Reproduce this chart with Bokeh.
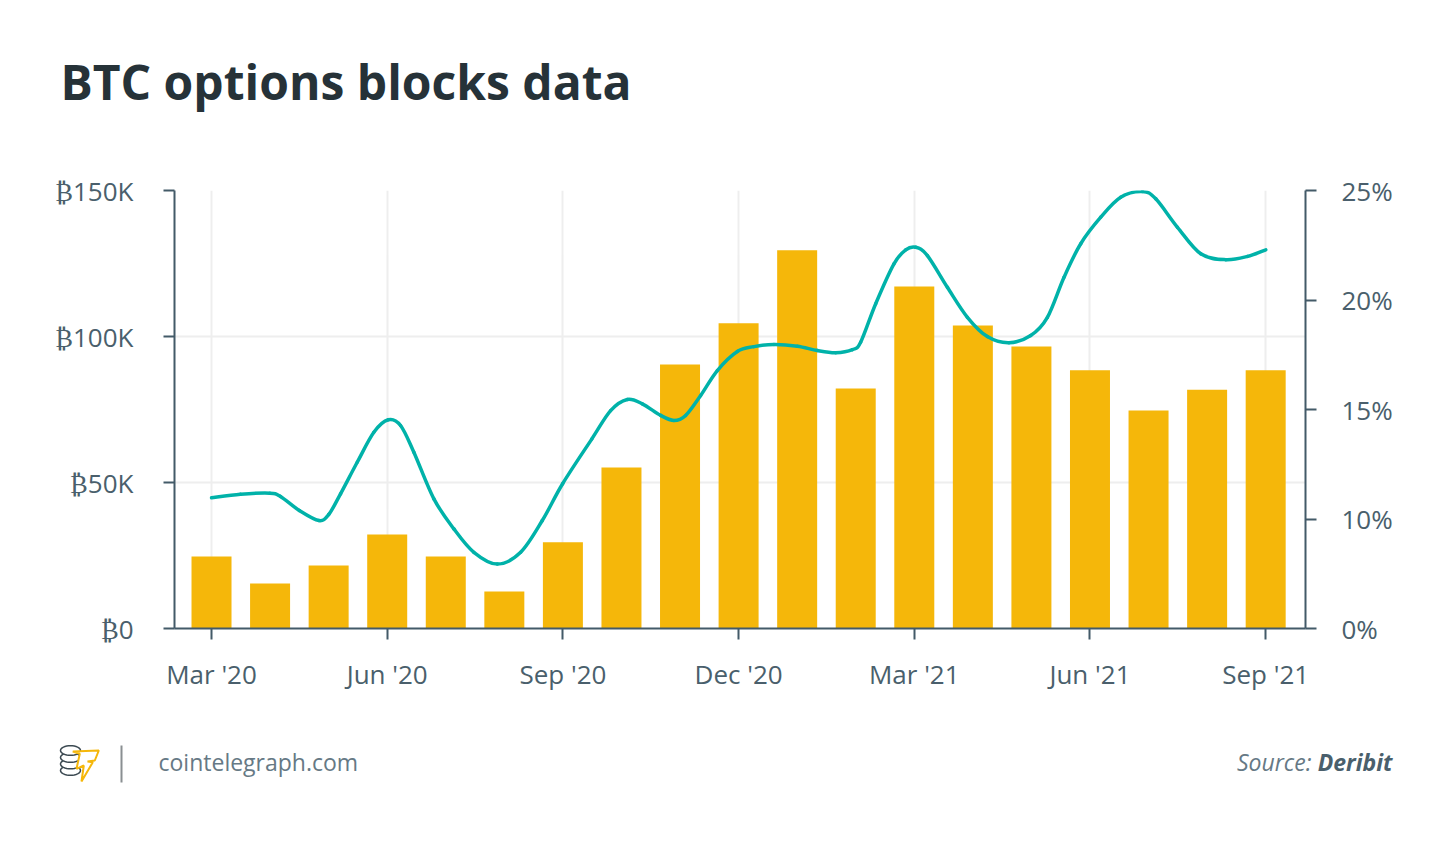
import math
from bokeh.plotting import figure
from bokeh.layouts import column
from bokeh.embed import file_html
from bokeh.resources import INLINE
from bokeh.core.properties import value
from bokeh.models import (Range1d, LinearAxis, FixedTicker, ColumnDataSource, Grid)

TITLE = "BTC options blocks data"
months = ["Mar '20", "Apr '20", "May '20", "Jun '20", "Jul '20", "Aug '20", "Sep '20",
          "Oct '20", "Nov '20", "Dec '20", "Jan '21", "Feb '21", "Mar '21", "Apr '21",
          "May '21", "Jun '21", "Jul '21", "Aug '21", "Sep '21"]
blocks_k = [24.7, 15.4, 21.6, 32.2, 24.7, 12.7, 29.5, 55.1, 90.4, 104.5, 129.5, 82.2,
            117.1, 103.8, 96.6, 88.4, 74.7, 81.8, 88.4]
# The line: month position and position on the right axis
line_month = [0, .495, .996, 1.178, 1.498, 1.833, 2.003, 2.203, 2.488, 2.772, 3.018, 3.228,
              3.455, 3.797, 4.138, 4.480, 4.880, 5.278, 5.648, 5.995, 6.495, 6.815, 7.100,
              7.356, 7.669, 7.896, 8.096, 8.352, 8.637, 8.979, 9.262, 9.604, 10.003, 10.345,
              10.658, 10.943, 11.084, 11.341, 11.653, 11.853, 12.024, 12.224, 12.565, 12.907,
              13.248, 13.617, 13.988, 14.273, 14.557, 14.842, 15.184, 15.525, 15.896, 16.123,
              16.494, 16.892, 17.319, 17.690, 18.002]
share_pct = [10.97, 11.13, 11.18, 11.03, 10.39, 9.93, 10.21, 11.15, 12.59, 13.96, 14.53, 14.27,
             13.05, 10.92, 9.55, 8.48, 7.94, 8.48, 9.93, 11.61, 13.66, 14.95, 15.46,
             15.26, 14.73, 14.50, 14.73, 15.64, 16.78, 17.65, 17.87, 17.97, 17.89, 17.69,
             17.59, 17.73, 18.07, 19.83, 21.65, 22.29, 22.41, 22.03, 20.58, 19.21,
             18.33, 18.05, 18.38, 19.21, 21.04, 22.57, 23.78, 24.69, 24.95, 24.62,
             23.32, 22.11, 21.84, 21.99, 22.29]
left_ticks = [0, 50, 100, 150]
left_labels = ["₿0", "₿50K", "₿100K", "₿150K"]
right_ticks = [5, 10, 15, 20, 25]
right_labels = ["0%", "10%", "15%", "20%", "25%"]
x_ticks = [0, 3, 6, 9, 12, 15, 18]

INK = "#4A5F6C"
AXIS = "#435A68"
GRID = "#EEEEEE"
FONT = "Open Sans"
TICK_SIZE = "26px"

def strip(top, bottom):
    """A figure without axes whose ranges are page pixels, for title and footer."""
    f = figure(width=1442, height=bottom - top, output_backend="svg", toolbar_location=None,
               x_range=Range1d(0, 1442), y_range=Range1d(bottom, top),
               min_border_left=0, min_border_right=0, min_border_top=0, min_border_bottom=0,
               x_axis_type=None, y_axis_type=None, outline_line_color=None,
               background_fill_color="white", border_fill_color="white")
    f.frame_align = False
    f.xgrid.visible = False
    f.ygrid.visible = False
    return f

def text(f, x, y, s, size, color=INK, align="left", style="normal"):
    f.text(x=[x], y=[y], text=[s], text_font=value(FONT), text_font_size=value(size),
           text_color=color, text_align=align, text_baseline="alphabetic",
           text_font_style=style)

head = strip(0, 150)
text(head, 60, 81, TITLE, "48px", color="#263238", style="bold")

p = figure(width=1442, height=578, output_backend="svg", toolbar_location=None,
           x_range=Range1d(-0.632, 18.68), y_range=Range1d(0, 150),
           min_border_left=174, min_border_right=137, min_border_top=40,
           min_border_bottom=100, x_axis_type=None, y_axis_type=None,
           outline_line_color=None, background_fill_color="white", border_fill_color="white")
p.frame_align = False
p.extra_y_ranges = {"pct": Range1d(5, 25)}

def style_axis(ax, ticks, labels, standoff):
    ax.ticker = FixedTicker(ticks=ticks)
    ax.major_label_overrides = dict(zip(ticks, labels))
    ax.major_tick_out = 11
    ax.major_tick_in = 0
    ax.minor_tick_out = 0
    ax.minor_tick_in = 0
    ax.axis_line_color = AXIS
    ax.axis_line_width = 2
    ax.major_tick_line_color = AXIS
    ax.major_tick_line_width = 2
    ax.major_label_text_color = INK
    ax.major_label_text_font = FONT
    ax.major_label_text_font_size = TICK_SIZE
    ax.major_label_standoff = standoff

xax = LinearAxis()
style_axis(xax, x_ticks, [months[i] for i in x_ticks], 16)
p.add_layout(xax, "below")
yax = LinearAxis()
style_axis(yax, left_ticks, left_labels, 30)
p.add_layout(yax, "left")
rax = LinearAxis(y_range_name="pct")
style_axis(rax, right_ticks, right_labels, 25)
p.add_layout(rax, "right")

p.add_layout(Grid(dimension=0, ticker=FixedTicker(ticks=x_ticks), grid_line_color=GRID, grid_line_width=2))
p.add_layout(Grid(dimension=1, ticker=FixedTicker(ticks=left_ticks), grid_line_color=GRID, grid_line_width=2))

p.vbar(x=list(range(len(months))), top=blocks_k, bottom=0, width=0.683,
       fill_color="#F5B70A", line_color=None)

# Smooth line: Catmull-Rom segments as Bezier glyphs through the read values
n = len(line_month)
seg = dict(x0=[], y0=[], x1=[], y1=[], cx0=[], cy0=[], cx1=[], cy1=[])
for i in range(n - 1):
    a, b = max(i - 1, 0), min(i + 2, n - 1)
    seg["x0"].append(line_month[i]); seg["y0"].append(share_pct[i])
    seg["x1"].append(line_month[i + 1]); seg["y1"].append(share_pct[i + 1])
    seg["cx0"].append(line_month[i] + (line_month[i + 1] - line_month[a]) / 6)
    seg["cy0"].append(share_pct[i] + (share_pct[i + 1] - share_pct[a]) / 6)
    seg["cx1"].append(line_month[i + 1] - (line_month[b] - line_month[i]) / 6)
    seg["cy1"].append(share_pct[i + 1] - (share_pct[b] - share_pct[i]) / 6)
p.bezier(x0="x0", y0="y0", x1="x1", y1="y1", cx0="cx0", cy0="cy0", cx1="cx1", cy1="cy1",
         source=ColumnDataSource(seg), y_range_name="pct",
         line_color="#00B2A9", line_width=3.5, line_cap="round")

foot = strip(728, 835)
text(foot, 158, 761, "cointelegraph.com", "23px", color="#667985")
text(foot, 1311, 761, "Source:", "23px", color="#667985", align="right", style="italic")
text(foot, 1392, 761, "Deribit", "23px", color="#4A5F6C", align="right", style="bold italic")

def coin(cy):
    return ([70 + 10 * math.cos(t / 16 * math.pi) for t in range(33)],
            [cy + 4.8 * math.sin(t / 16 * math.pi) for t in range(33)])

for cy in (770, 763.5, 757, 750):
    xs, ys = coin(cy)
    foot.patch(xs, ys, fill_color="white", line_color="#3C4A52", line_width=1.5)
foot.patch([72.3, 98.3, 94.3, 87, 92.3, 81, 83.3, 76, 79.3],
           [751, 750, 760, 761, 761.7, 781, 765, 768.3, 753.3],
           fill_color="white", line_color="#F5B70A", line_width=2)
foot.line([121, 121], [745, 782], line_color="#8A8F92", line_width=2)

page = column(head, p, foot, spacing=0)
open("out.html", "w").write(file_html(page, INLINE))
